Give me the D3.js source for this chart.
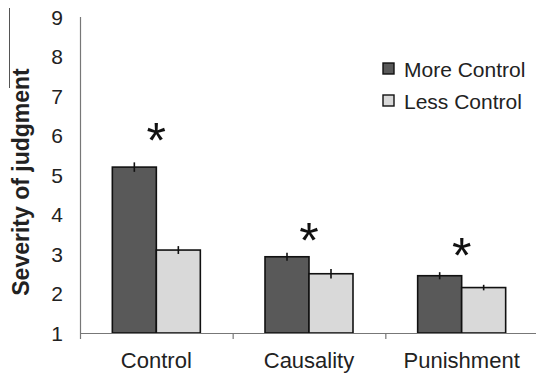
<!DOCTYPE html>
<html>
<head>
<meta charset="utf-8">
<script src="https://cdn.jsdelivr.net/npm/d3@7"></script>
<style>
  body { margin: 0; background: #fff; }
  text { font-family: Arial, "Liberation Sans", sans-serif; }
</style>
</head>
<body>
<div id="chart"></div>
<script>
// data
let categories = ['Control', 'Causality', 'Punishment']
let seriesNames = ['More Control', 'Less Control']
let moreControl = [5.2, 2.93, 2.45]
let lessControl = [3.1, 2.5, 2.15]
let moreErr = [0.12, 0.1, 0.09]
let lessErr = [0.1, 0.12, 0.07]
let starLevel = [6.16, 3.61, 3.25]
let yTicks = [1, 2, 3, 4, 5, 6, 7, 8, 9]

let width = 536
let height = 376
let plotLeft = 80
let plotTop = 17
let plotBottom = 333
let colors = ['#595959', '#d9d9d9']

let svg = d3.select('#chart')
  .append('svg')
  .attr('width', width)
  .attr('height', height)

// stray line left of the title
svg.append('line')
  .attr('x1', 9.5).attr('x2', 9.5)
  .attr('y1', 8).attr('y2', 88)
  .attr('stroke', '#555')
  .attr('stroke-width', 1)

let yScale = d3.scaleLinear()
  .domain([1, 9])
  .range([plotBottom, plotTop])

let xScale = d3.scaleBand()
  .domain(categories)
  .range([plotLeft, 538])
  .padding(0)

let inner = d3.scaleBand()
  .domain([0, 1])
  .range([0, xScale.bandwidth()])
  .paddingInner(0)
  .paddingOuter(0.735)

// y tick labels
svg.append('g')
  .selectAll('text')
  .data(yTicks)
  .enter()
  .append('text')
  .attr('x', 63)
  .attr('y', d => yScale(d))
  .attr('dy', '0.36em')
  .attr('text-anchor', 'end')
  .attr('font-size', 21)
  .attr('fill', '#222')
  .text(d => d)

// y title
svg.append('text')
  .attr('transform', 'translate(29,' + 182 + ') rotate(-90)')
  .attr('text-anchor', 'middle')
  .attr('font-size', 23)
  .attr('font-weight', 'bold')
  .attr('fill', '#222')
  .text('Severity of judgment')

// bars
let groups = svg.append('g')
  .selectAll('g')
  .data(categories)
  .enter()
  .append('g')
  .attr('transform', d => 'translate(' + xScale(d) + ',0)')

let rows = categories.map((c, i) => [
  { s: 0, v: moreControl[i], e: moreErr[i] },
  { s: 1, v: lessControl[i], e: lessErr[i] }
])

groups.selectAll('rect')
  .data((d, i) => rows[i])
  .enter()
  .append('rect')
  .attr('x', d => inner(d.s))
  .attr('y', d => yScale(d.v))
  .attr('width', inner.bandwidth())
  .attr('height', d => yScale(1) - yScale(d.v))
  .attr('fill', d => colors[d.s])
  .attr('stroke', '#111')
  .attr('stroke-width', 1.6)

// error bars
groups.selectAll('line.err')
  .data((d, i) => rows[i])
  .enter()
  .append('line')
  .attr('class', 'err')
  .attr('x1', d => inner(d.s) + inner.bandwidth() / 2)
  .attr('x2', d => inner(d.s) + inner.bandwidth() / 2)
  .attr('y1', d => yScale(d.v + d.e))
  .attr('y2', d => yScale(d.v - d.e))
  .attr('stroke', '#111')
  .attr('stroke-width', 1.6)

// significance stars
groups.append('text')
  .attr('x', xScale.bandwidth() / 2)
  .attr('y', (d, i) => yScale(starLevel[i]))
  .attr('dy', '0.57em')
  .attr('text-anchor', 'middle')
  .attr('font-size', 50)
  .attr('fill', '#111')
  .text('*')

// axes lines
svg.append('line')
  .attr('x1', plotLeft + 0.5).attr('x2', plotLeft + 0.5)
  .attr('y1', plotTop).attr('y2', plotBottom + 6)
  .attr('stroke', '#777')
  .attr('stroke-width', 1.2)

svg.append('line')
  .attr('x1', plotLeft).attr('x2', width)
  .attr('y1', plotBottom + 0.5).attr('y2', plotBottom + 0.5)
  .attr('stroke', '#777')
  .attr('stroke-width', 1.2)

svg.append('g')
  .selectAll('line')
  .data(categories.slice(1))
  .enter()
  .append('line')
  .attr('x1', d => xScale(d) + 0.5)
  .attr('x2', d => xScale(d) + 0.5)
  .attr('y1', plotBottom)
  .attr('y2', plotBottom + 6)
  .attr('stroke', '#777')
  .attr('stroke-width', 1.2)

// category labels
svg.append('g')
  .selectAll('text')
  .data(categories)
  .enter()
  .append('text')
  .attr('x', d => xScale(d) + xScale.bandwidth() / 2)
  .attr('y', 368)
  .attr('text-anchor', 'middle')
  .attr('font-size', 22)
  .attr('fill', '#222')
  .text(d => d)

// legend
let legend = svg.append('g')
  .selectAll('g')
  .data(seriesNames)
  .enter()
  .append('g')
  .attr('transform', (d, i) => 'translate(383,' + (63 + i * 32) + ')')

legend.append('rect')
  .attr('width', 11)
  .attr('height', 11)
  .attr('fill', (d, i) => colors[i])
  .attr('stroke', '#111')
  .attr('stroke-width', 1.4)

legend.append('text')
  .attr('x', 21)
  .attr('y', 6)
  .attr('dy', '0.36em')
  .attr('font-size', 21)
  .attr('fill', '#222')
  .text(d => d)
</script>
</body>
</html>
